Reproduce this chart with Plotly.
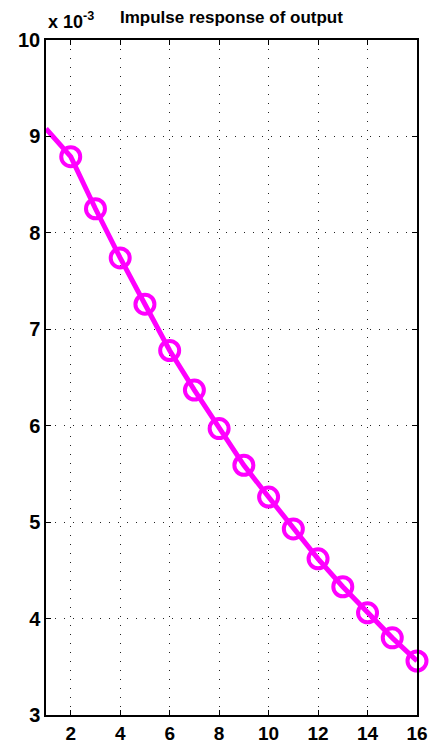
import plotly.graph_objects as go

x_line = [1, 2, 3, 4, 5, 6, 7, 8, 9, 10, 11, 12, 13, 14, 15, 16]
y_line = [9.08, 8.79, 8.25, 7.74, 7.26, 6.78, 6.37, 5.97, 5.59, 5.26, 4.93, 4.62, 4.33, 4.06, 3.80, 3.56]
x_ticks = [2, 4, 6, 8, 10, 12, 14, 16]
y_ticks = [3, 4, 5, 6, 7, 8, 9, 10]

fig = go.Figure()
fig.add_trace(go.Scatter(x=x_line, y=y_line, mode="lines",
                         line=dict(color="#ff00ff", width=5), hoverinfo="skip"))
fig.add_trace(go.Scatter(x=x_line[1:], y=y_line[1:], mode="markers",
                         marker=dict(symbol="circle-open", size=19, color="#ff00ff",
                                     line=dict(color="#ff00ff", width=4)),
                         cliponaxis=False))

axis_common = dict(showline=True, linecolor="black", linewidth=1.5, mirror="ticks",
                   ticks="inside", ticklen=5, tickcolor="black", tickwidth=1,
                   showgrid=True, gridcolor="#222222", griddash="1px,8px", gridwidth=1,
                   zeroline=False, automargin=False)

fig.update_xaxes(range=[1, 16], tickvals=x_ticks, ticktext=[str(v) for v in x_ticks],
                 ticklabelstandoff=0,
                 tickfont=dict(family="Liberation Sans", size=19, color="black", weight="bold"),
                 **axis_common)
fig.update_yaxes(range=[3, 10], tickvals=y_ticks, ticktext=[str(v) for v in y_ticks],
                 ticklabelstandoff=0,
                 tickfont=dict(family="Liberation Sans", size=20, color="black", weight="bold"),
                 **axis_common)

fig.update_layout(
    width=443, height=743,
    margin=dict(l=46, r=26, t=40, b=28),
    plot_bgcolor="white", paper_bgcolor="white",
    showlegend=False,
    annotations=[
        dict(text="Impulse response of output", xref="paper", yref="paper", x=0.5, y=1.0,
             xanchor="center", yanchor="bottom", yshift=11, showarrow=False,
             font=dict(family="Liberation Sans", size=17, color="black", weight="bold")),
        dict(text="x 10<sup>-3</sup>", xref="paper", yref="paper", x=0.0, y=1.0,
             xanchor="left", yanchor="bottom", yshift=6, showarrow=False,
             font=dict(family="Liberation Sans", size=18, color="black", weight="bold")),
    ],
)

fig.write_html("out.html", config={"displayModeBar": False},
               post_script="document.body.style.margin='0';document.body.style.overflow='hidden';")
